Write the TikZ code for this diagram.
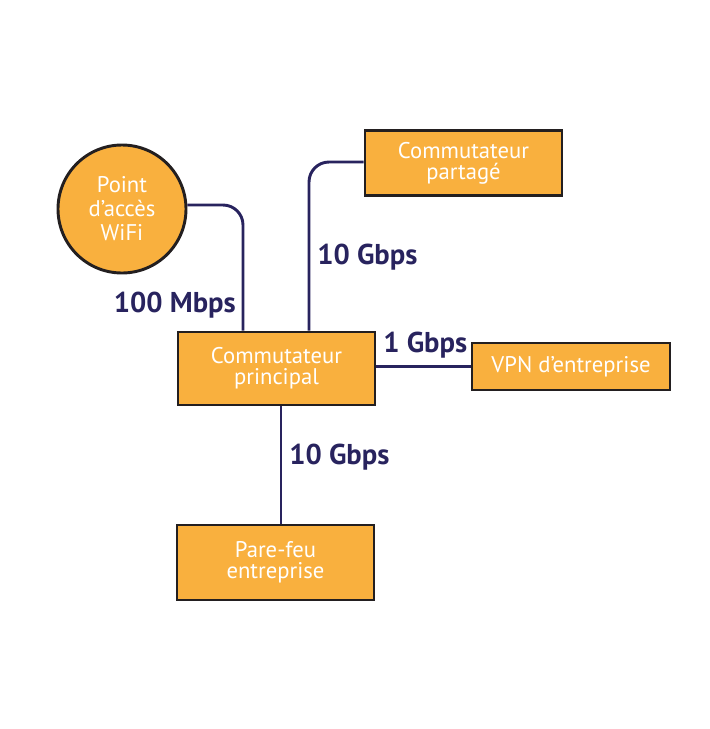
\documentclass[tikz,border=0pt]{standalone}
\usepackage{fontspec}
\setmainfont{PT Sans}
\usetikzlibrary{positioning}
\definecolor{netorange}{HTML}{F9B03E}
\definecolor{netnavy}{HTML}{28235E}
\definecolor{netedge}{HTML}{231F20}

\begin{document}
\begin{tikzpicture}[
      x=0.75pt, y=-0.75pt,
      mybox/.style={
         rectangle,
         draw=netedge,
         fill=netorange,
         line width=2.2pt,
         text=white,
         align=center,
         inner sep=0pt,
         font=\fontsize{17}{16}\selectfont},
      mycircle/.style={
         circle,
         draw=netedge,
         fill=netorange,
         line width=2.2pt,
         text=white,
         align=center,
         inner sep=0pt,
         minimum size=96pt,
         font=\fontsize{17}{18}\selectfont},
      mytext/.style={
         text=netnavy,
         inner sep=0pt,
         font=\fontsize{21.5}{22}\selectfont\bfseries},
      mylink/.style={draw=netnavy, line width=2.2pt, rounded corners=15pt}
      ]
      \useasboundingbox (0,0) rectangle (710,729);
      \node[mycircle] (wifi) at (122,209) {Point\\d'accès\\WiFi};
      \node[mybox, minimum width=147.75pt, minimum height=48.75pt] (partage) at (463.5,163) {Commutateur\\partagé};
      \node[mybox, minimum width=147.75pt, minimum height=54.75pt] (principal) at (276.5,368.5) {Commutateur\\principal};
      \node[mybox, minimum width=148.5pt, minimum height=35.25pt] (vpn) at (571,366.5) {VPN d’entreprise};
      \node[mybox, minimum width=147.75pt, minimum height=56.25pt] (parefeu) at (275.5,562.5) {Pare-feu\\entreprise};
      \coordinate (c1) at (243,0);
      \coordinate (c2) at (309,0);
      \coordinate (c3) at (281,0);
      % links from the main switch
      \draw[mylink] (wifi.east |- 0,205) -| (principal.north -| c1);
      \draw[mylink] (principal.north -| c2) |- (partage.west |- 0,162);
      \draw[mylink] (principal.east |- vpn.west) -- (vpn.west);
      \draw[mylink] (principal.south -| c3) -- (parefeu.north -| c3);
      \node[mytext, anchor=east] (l1) at (236,305) {100 Mbps};
      \node[mytext, anchor=west] (l2) at (317,257) {10 Gbps};
      \node[mytext, anchor=west] (l3) at (383,345) {1 Gbps};
      \node[mytext, anchor=west] (l4) at (289,457) {10 Gbps};
\end{tikzpicture}
\end{document}
